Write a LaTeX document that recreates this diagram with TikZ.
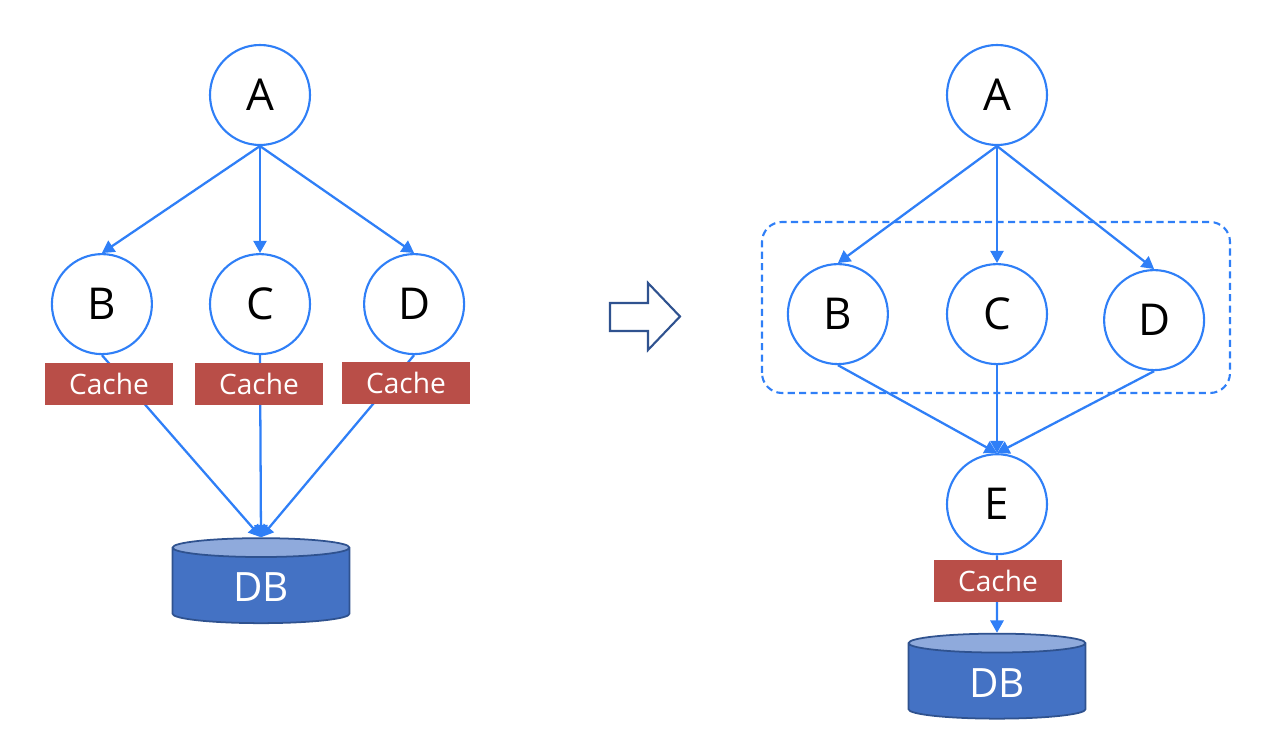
\documentclass[tikz,border=0pt]{standalone}
\usepackage{fontspec}
\setmainfont{Open Sans}
\usetikzlibrary{arrows.meta,positioning,shapes.geometric}
\definecolor{linkblue}{HTML}{2F7FF7}
\definecolor{cachered}{HTML}{B94E48}
\definecolor{dbfill}{HTML}{4472C4}
\definecolor{dbtop}{HTML}{8FAADC}
\definecolor{dbedge}{HTML}{2F528F}

\begin{document}
\begin{tikzpicture}[
  vertex/.style={circle, draw=linkblue, line width=1.2pt, fill=white,
                 minimum size=2cm, inner sep=0pt, font=\fontsize{25}{29}\selectfont},
  cache/.style={rectangle, fill=cachered, text=white, minimum width=2.56cm,
                minimum height=0.84cm, inner sep=0pt, font=\fontsize{16}{18}\selectfont},
  db/.style={cylinder, shape border rotate=90, aspect=0.28, draw=dbedge, line width=1pt,
             cylinder uses custom fill, cylinder body fill=dbfill, cylinder end fill=dbtop,
             minimum width=3.54cm, minimum height=1.7cm, text=white,
             font=\fontsize{23}{27}\selectfont},
  link/.style={-{Triangle[length=7pt,width=7.5pt]}, draw=linkblue, line width=1.3pt},
]
  \useasboundingbox (0,0) rectangle (25.6,14.8);

  % before: one cache per service
  \node[vertex] (a1) at (5.2,12.9) {A};
  \node[vertex, below=2.14cm of a1] (c1) {C};
  \node[vertex, left=1.12cm of c1] (b1) {B};
  \node[vertex, right=1.04cm of c1] (d1) {D};
  \node[db] (db1) at (5.22,3.05) {DB};
  \foreach \n in {b1,c1,d1} {
    \draw[link] (a1.south) -- (\n.north);
    \draw[link] (\n.south) -- (db1.north);
  }
  \node[cache] (cb1) at (2.18,7.12) {Cache};
  \node[cache] (cc1) at (5.18,7.12) {Cache};
  \node[cache] (cd1) at (8.12,7.14) {Cache};

  % transition
  \draw[dbedge, line width=1.2pt, fill=white]
    (12.2,8.18) -- (12.96,8.18) -- (12.96,7.8) -- (13.6,8.47)
    -- (12.96,9.14) -- (12.96,8.74) -- (12.2,8.74) -- cycle;

  % after: shared service E with one cache
  \node[vertex] (a2) at (19.94,12.9) {A};
  \node[vertex, below=2.34cm of a2] (c2) {C};
  \node[vertex, left=1.14cm of c2] (b2) {B};
  \node[vertex, right=1.1cm of c2, yshift=-0.12cm] (d2) {D};
  \node[vertex, below=1.76cm of c2] (e2) {E};
  \node[db] (db2) at (19.94,1.14) {DB};
  \draw[linkblue, dashed, dash pattern=on 4pt off 2.5pt, line width=1.2pt,
        rounded corners=0.4cm] (15.24,6.94) rectangle (24.6,10.36);
  \foreach \n in {b2,c2,d2} {
    \draw[link] (a2.south) -- (\n.north);
    \draw[link] (\n.south) -- (e2.north);
  }
  \draw[link] (e2.south) -- (db2.north);
  \node[cache] (ce2) at (19.96,3.18) {Cache};
\end{tikzpicture}
\end{document}
